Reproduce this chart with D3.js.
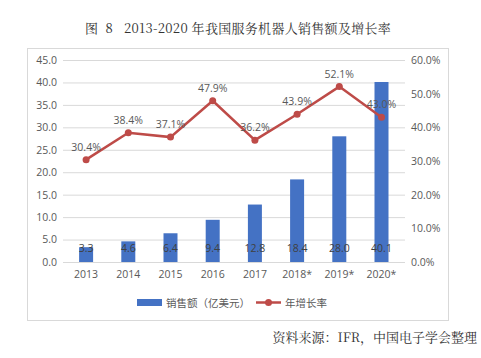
<!DOCTYPE html>
<html><head><meta charset="utf-8">
<script src="https://cdn.jsdelivr.net/npm/d3@7"></script>
<style>body{margin:0;background:#fff;}svg{display:block;}</style>
</head><body>
<script>
const years = ["2013","2014","2015","2016","2017","2018*","2019*","2020*"];
const sales = [3.3, 4.6, 6.4, 9.4, 12.8, 18.4, 28.0, 40.1];
const growth = [30.4, 38.4, 37.1, 47.9, 36.2, 43.9, 52.1, 43.0];
const leftTicks = [0,5,10,15,20,25,30,35,40,45];
const rightTicks = [0,10,20,30,40,50,60];
const title = "图  8   2013-2020 年我国服务机器人销售额及增长率";
const source = "资料来源：IFR，中国电子学会整理";
const legendLabels = ["销售额（亿美元）","年增长率"];

const W=481,H=358;
const svg=d3.select("body").append("svg").attr("width",W).attr("height",H);
const serif="'Noto Serif CJK SC','Noto Sans CJK SC','DejaVu Serif',serif";
const sans="'Open Sans','Noto Sans CJK SC',sans-serif";

svg.append("text").attr("x",238).attr("y",33).attr("text-anchor","middle")
  .style("white-space","pre").attr("letter-spacing",0.3)
  .attr("font-family",serif).attr("font-size",13).attr("fill","#333").text(title);

svg.append("rect").attr("x",27.5).attr("y",48.5).attr("width",421).attr("height",272)
  .attr("fill","#fff").attr("stroke","#d9d9d9");

const x=d3.scaleBand().domain(years).range([65,402.6]);
const yL=d3.scaleLinear().domain([0,45]).range([262,60]);
const yR=d3.scaleLinear().domain([0,60]).range([262,60]);

// grid
svg.append("g").selectAll("line").data(leftTicks).join("line")
  .attr("x1",63).attr("x2",405).attr("y1",d=>yL(d)+0.5).attr("y2",d=>yL(d)+0.5)
  .attr("stroke","#d9d9d9");

const axL=svg.append("g").attr("transform","translate(59,0)")
  .call(d3.axisLeft(yL).tickValues(leftTicks).tickFormat(d3.format(".1f")).tickSize(0).tickPadding(2));
const axR=svg.append("g").attr("transform","translate(409,0)")
  .call(d3.axisRight(yR).tickValues(rightTicks).tickFormat(d=>d.toFixed(1)+"%").tickSize(0).tickPadding(2));
const axB=svg.append("g").attr("transform","translate(0,262)")
  .call(d3.axisBottom(x).tickSize(0).tickPadding(9));
[axL,axR,axB].forEach(a=>{a.select(".domain").remove();
  a.selectAll("text").attr("font-family",sans).attr("font-size",10.5).attr("fill","#595959");});

// bars
const bw=14;
svg.append("g").selectAll("rect").data(sales).join("rect")
  .attr("x",(d,i)=>x(years[i])+x.bandwidth()/2-bw/2).attr("width",bw)
  .attr("y",d=>yL(d)).attr("height",d=>yL(0)-yL(d)).attr("fill","#4472C4");
svg.append("g").selectAll("text").data(sales).join("text")
  .attr("x",(d,i)=>x(years[i])+x.bandwidth()/2).attr("y",252)
  .attr("text-anchor","middle").attr("font-family",sans).attr("font-size",10.5)
  .attr("fill","#404040").text(d=>d.toFixed(1));

// line
const lineColor="#BE4B48";
const line=d3.line().x((d,i)=>x(years[i])+x.bandwidth()/2).y(d=>yR(d));
svg.append("path").datum(growth).attr("d",line).attr("fill","none")
  .attr("stroke",lineColor).attr("stroke-width",2.5);
svg.append("g").selectAll("circle").data(growth).join("circle")
  .attr("cx",(d,i)=>x(years[i])+x.bandwidth()/2).attr("cy",d=>yR(d)).attr("r",3.5)
  .attr("fill",lineColor);
svg.append("g").selectAll("text").data(growth).join("text")
  .attr("x",(d,i)=>x(years[i])+x.bandwidth()/2).attr("y",d=>yR(d)-9)
  .attr("text-anchor","middle").attr("font-family",sans).attr("font-size",10.5)
  .attr("fill","#595959").text(d=>d.toFixed(1)+"%");

// legend
const lg=svg.append("g");
lg.append("rect").attr("x",137).attr("y",299).attr("width",25).attr("height",7).attr("fill","#4472C4");
lg.append("text").attr("x",166).attr("y",306.5).attr("font-family",sans).attr("font-size",10.5)
  .attr("fill","#595959").text(legendLabels[0]);
lg.append("line").attr("x1",256).attr("x2",281).attr("y1",302.5).attr("y2",302.5)
  .attr("stroke",lineColor).attr("stroke-width",2.5);
lg.append("circle").attr("cx",268.5).attr("cy",302.5).attr("r",3.5).attr("fill",lineColor);
lg.append("text").attr("x",285).attr("y",306.5).attr("font-family",sans).attr("font-size",10.5)
  .attr("fill","#595959").text(legendLabels[1]);

svg.append("text").attr("x",477).attr("y",342).attr("text-anchor","end")
  .attr("font-family",serif).attr("font-size",13).attr("fill","#333").text(source);
</script>
</body></html>
